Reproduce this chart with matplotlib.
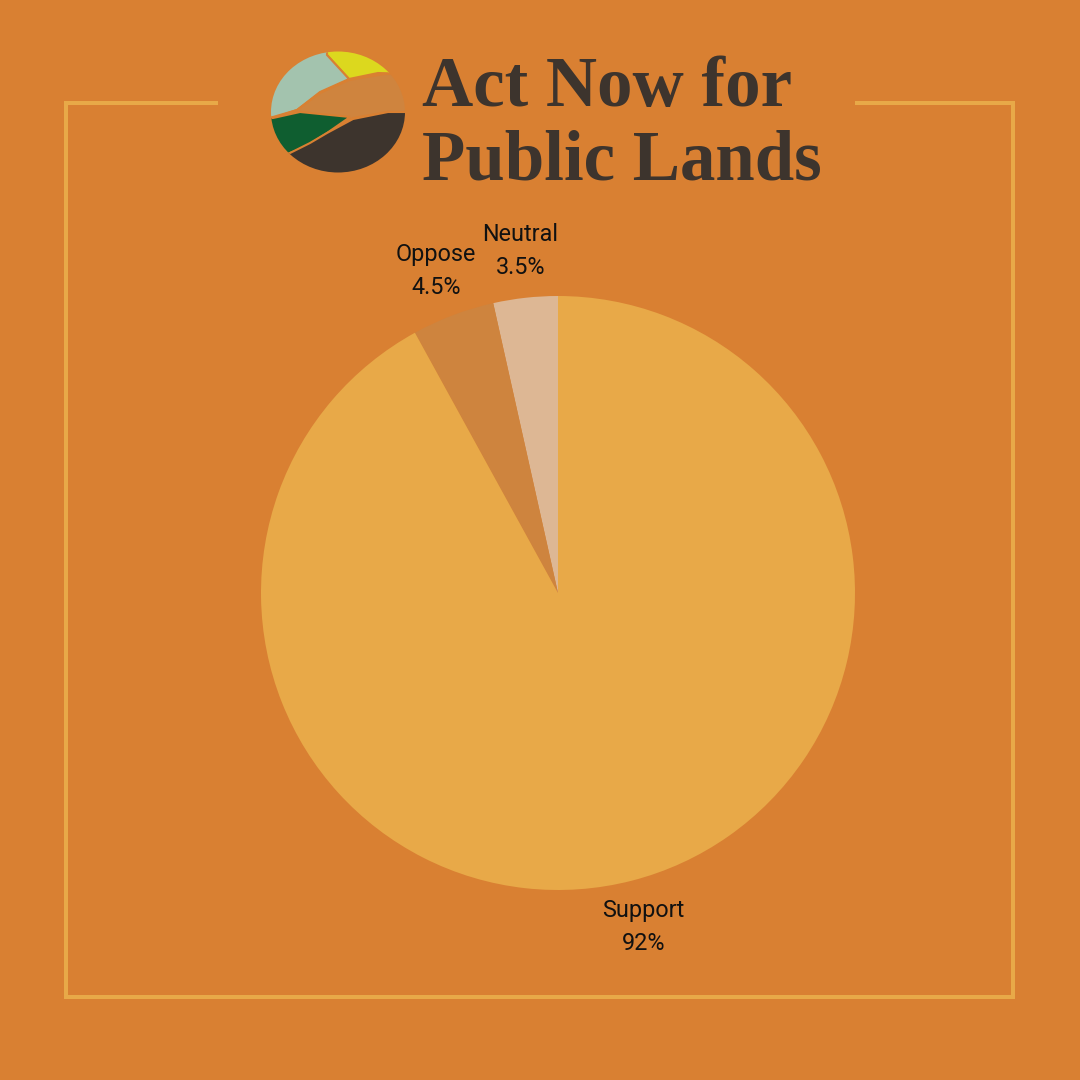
import matplotlib.pyplot as plt
import matplotlib.patches as mpatches

labels = ["Neutral", "Oppose", "Support"]
values = [3.5, 4.5, 92]
pct_labels = ["3.5%", "4.5%", "92%"]
colors = ["#DDB794", "#CE843E", "#E8A948"]

title_lines = ["Act Now for", "Public Lands"]

bg_color = "#D98032"
frame_color = "#E8A948"
text_dark = "#3D342D"

fig = plt.figure(figsize=(10.8, 10.8), dpi=100)
fig.patch.set_facecolor(bg_color)

# background axes in pixel coords (y down)
bg = fig.add_axes([0, 0, 1, 1])
bg.set_xlim(0, 1080)
bg.set_ylim(1080, 0)
bg.axis("off")

# frame with a gap for the header
bg.plot([218, 66, 66, 1013, 1013, 855], [103, 103, 997, 997, 103, 103],
        color=frame_color, lw=2.9, solid_joinstyle="miter", solid_capstyle="butt")

# logo: layered hills clipped to a rounded shape
clip = mpatches.Ellipse((338, 112), 134, 121, transform=bg.transData)
layers = [
    ("#DCD81E", [(320, 40), (410, 40), (410, 74), (378, 73), (349, 79), (327, 55)]),
    ("#A3C3AE", [(265, 40), (327, 40), (327, 55), (349, 79), (320, 92), (297, 110), (273, 117), (265, 117)]),
    ("#CF843E", [(349, 80), (385, 74), (410, 74), (410, 112), (388, 112), (353, 118), (327, 133), (300, 150), (300, 112), (273, 118), (297, 110), (320, 93)]),
    ("#0F5E30", [(265, 118), (273, 118), (300, 112), (350, 117), (327, 133), (305, 147), (290, 153), (265, 160)]),
    ("#3D342D", [(290, 153), (310, 143), (327, 133), (353, 119), (388, 112), (410, 112), (410, 190), (265, 190), (265, 165)]),
]
for col, pts in layers:
    poly = mpatches.Polygon(pts, closed=True, facecolor=col, edgecolor=bg_color, lw=1.5)
    bg.add_patch(poly)
    poly.set_clip_path(clip)

bg.text(422, 106, title_lines[0], fontsize=51, family="Liberation Serif",
        fontweight="bold", color=text_dark, va="baseline", ha="left")
bg.text(422, 180, title_lines[1], fontsize=51, family="Liberation Serif",
        fontweight="bold", color=text_dark, va="baseline", ha="left")

# pie axes, centre (558, 593) radius 297 px
r = 297
cx, cy = 558, 593
ax = fig.add_axes([(cx - r) / 1080, (1080 - cy - r) / 1080, 2 * r / 1080, 2 * r / 1080])
ax.set_facecolor("none")
wedges, texts = ax.pie(values, colors=colors, startangle=90, counterclock=True,
                       labels=[l + "\n" + p for l, p in zip(labels, pct_labels)],
                       labeldistance=1.16, radius=1,
                       wedgeprops=dict(linewidth=0),
                       textprops=dict(fontsize=16.8, family="Roboto", color="#111111",
                                      linespacing=1.55))
for t in texts:
    t.set_ha("center")
    t.set_va("center")
ax.set_xlim(-1, 1)
ax.set_ylim(-1, 1)
ax.set_aspect("equal")

fig.savefig("out.png", dpi=100, facecolor=bg_color)
